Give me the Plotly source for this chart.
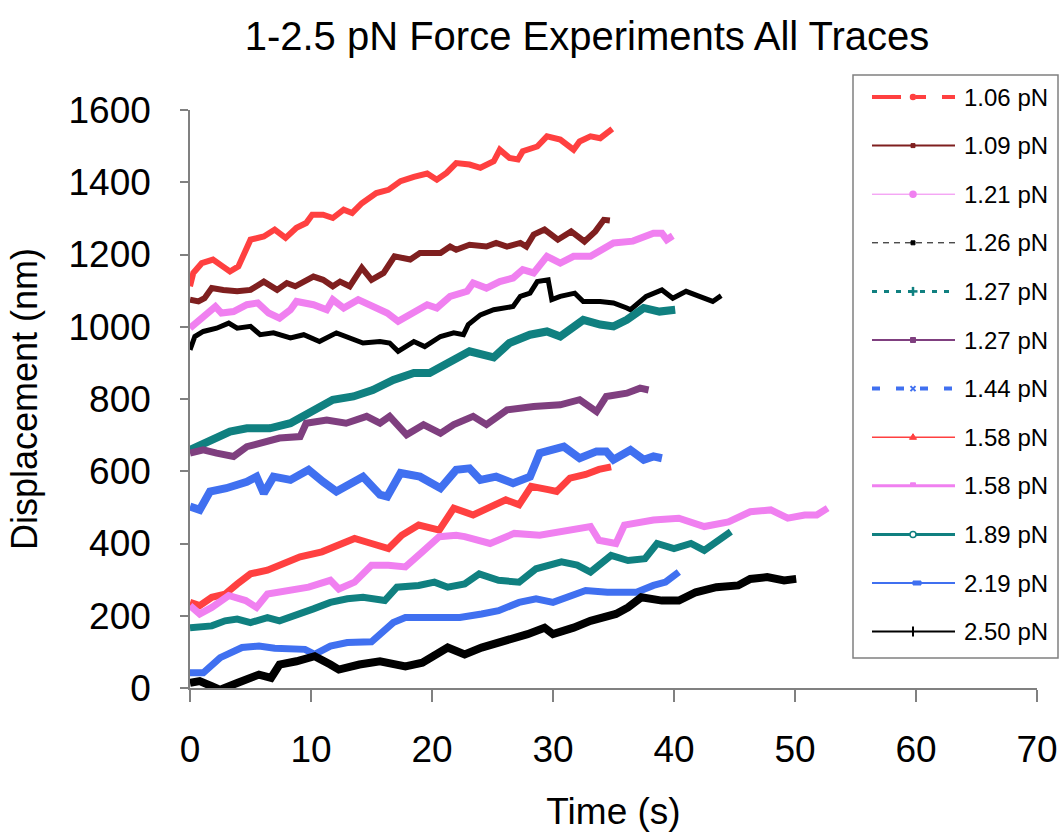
import plotly.graph_objects as go

# ---------------- data ----------------
labels = ["1.06 pN", "1.09 pN", "1.21 pN", "1.26 pN", "1.27 pN", "1.27 pN",
          "1.44 pN", "1.58 pN", "1.58 pN", "1.89 pN", "2.19 pN", "2.50 pN"]

t_106 = [0, 0.27, 0.97, 1.9, 2.7, 3.3, 4.0, 4.7, 5.0, 6.1, 7.0, 7.9, 8.8, 9.6, 10.1, 11.0, 11.8, 12.7, 13.4, 14.2,
         15.4, 16.4, 17.4, 18.5, 19.6, 20.4, 21.2, 22.0, 23.1, 24.0, 25.1, 25.6, 26.4, 27.1, 27.5, 28.7, 29.5,
         30.6, 31.7, 32.2, 33.1, 33.9, 34.9]
d_106 = [1112, 1149, 1176, 1186, 1167, 1153, 1167, 1213, 1241, 1250, 1269, 1246, 1274, 1287, 1310, 1310, 1301, 1324,
         1315, 1342, 1370, 1379, 1403, 1415, 1424, 1407, 1426, 1453, 1449, 1440, 1458, 1490, 1467, 1463, 1486, 1499,
         1527, 1518, 1490, 1513, 1527, 1522, 1548]

t_109 = [0, 0.7, 1.2, 1.8, 2.75, 3.9, 5.0, 6.1, 7.2, 8.0, 8.7, 10.2, 11.0, 11.8, 12.4, 13.2, 14.2, 15.0, 16.0, 16.9,
         18.2, 19.0, 20.7, 21.5, 22.0, 23.1, 24.5, 25.3, 26.2, 27.3, 27.8, 28.4, 29.3, 30.4, 31.5, 32.6, 33.5, 34.2, 34.7]
d_109 = [1075, 1070, 1079, 1107, 1102, 1098, 1102, 1125, 1102, 1121, 1112, 1139, 1130, 1112, 1125, 1112, 1163, 1130,
         1149, 1195, 1186, 1204, 1204, 1222, 1213, 1227, 1222, 1232, 1222, 1232, 1222, 1255, 1269, 1241, 1264, 1236,
         1264, 1296, 1294]

t_121 = [0, 1.1, 2.1, 2.6, 3.6, 4.7, 5.6, 6.5, 7.4, 8.3, 8.8, 10.2, 11.3, 11.8, 12.7, 13.9, 15.2, 16.3, 17.2, 18.5,
         19.6, 20.4, 21.5, 22.9, 23.4, 24.5, 25.6, 26.7, 27.5, 28.4, 29.5, 30.6, 31.7, 33.1, 34.2, 35.0, 36.6, 38.3,
         39.0, 39.4, 39.9]
d_121 = [996, 1029, 1056, 1038, 1042, 1061, 1066, 1038, 1024, 1047, 1070, 1061, 1047, 1075, 1052, 1075, 1056, 1038,
         1015, 1042, 1061, 1052, 1084, 1098, 1121, 1107, 1125, 1135, 1158, 1149, 1195, 1176, 1195, 1195, 1218, 1232,
         1237, 1259, 1259, 1241, 1252]

t_126 = [0, 0.4, 1.1, 2.2, 3.2, 3.9, 5.0, 5.8, 6.9, 8.3, 9.4, 10.7, 12.1, 13.2, 14.3, 15.7, 16.5, 17.2, 18.5, 19.4,
         20.7, 21.8, 22.6, 23.0, 24.0, 25.1, 26.7, 27.3, 28.1, 28.7, 29.6, 29.9, 30.6, 31.8, 32.5, 33.9, 35.0, 36.1,
         36.4, 37.7, 39.0, 39.9, 41.0, 42.1, 43.2, 43.9]
d_126 = [936, 973, 987, 996, 1010, 996, 1001, 978, 983, 969, 978, 959, 983, 969, 955, 959, 955, 932, 959, 945,
         973, 983, 978, 1006, 1033, 1047, 1056, 1084, 1093, 1125, 1130, 1075, 1084, 1093, 1070, 1070, 1066, 1052,
         1047, 1084, 1102, 1079, 1098, 1084, 1070, 1086]

t_127a = [0, 0.55, 1.9, 3.3, 4.7, 6.6, 8.3, 9.9, 11.8, 13.5, 15.1, 16.8, 18.5, 19.8, 21.2, 23.1, 25.1, 26.4, 28.1,
          29.5, 30.6, 32.5, 33.9, 35.0, 36.1, 37.5, 38.8, 40.1]
d_127a = [659, 668, 692, 710, 719, 719, 733, 761, 798, 807, 825, 853, 872, 872, 899, 932, 915, 955, 978,
          987, 973, 1019, 1006, 1001, 1019, 1052, 1042, 1047]

t_127b = [0, 1.1, 2.2, 3.6, 4.7, 6.1, 7.4, 9.1, 9.6, 11.3, 12.9, 14.6, 15.7, 16.5, 17.9, 19.3, 20.7, 21.8, 23.4,
          24.5, 26.2, 28.4, 30.6, 32.2, 33.6, 34.4, 36.1, 37.2, 37.9]
d_127b = [650, 659, 650, 641, 668, 678, 692, 696, 733, 742, 733, 752, 733, 752, 701, 729, 705, 729, 752,
          729, 770, 779, 784, 798, 765, 807, 816, 830, 825]

t_144 = [0, 0.8, 1.65, 3.0, 4.7, 5.5, 6.1, 6.9, 8.3, 9.8, 11.0, 12.1, 14.3, 15.7, 16.3, 17.4, 19.0, 20.7, 22.0,
         23.1, 24.0, 25.3, 26.7, 28.1, 28.9, 30.9, 32.2, 33.6, 34.4, 35.0, 36.4, 37.5, 38.3, 39.0]
d_144 = [502, 493, 544, 553, 571, 585, 539, 585, 576, 604, 571, 544, 585, 535, 530, 595, 585, 553, 604,
         608, 576, 585, 567, 585, 650, 668, 636, 655, 655, 632, 659, 632, 641, 636]

t_158a = [0, 0.8, 1.8, 2.9, 3.9, 5.0, 6.4, 7.7, 9.1, 10.9, 11.9, 13.6, 15.0, 16.4, 17.5, 18.9, 20.6, 21.8, 23.4,
          24.8, 26.1, 27.2, 28.2, 29.6, 30.3, 31.4, 32.7, 33.8, 34.8]
d_158a = [237, 228, 251, 260, 288, 316, 326, 344, 363, 377, 391, 414, 400, 386, 423, 451, 437, 498, 479,
          502, 521, 507, 558, 549, 544, 581, 591, 605, 612]

t_158b = [0, 0.8, 1.8, 3.2, 4.6, 5.5, 6.4, 8.1, 9.8, 11.6, 12.3, 13.6, 15.0, 16.4, 17.8, 19.2, 20.6, 22.0, 22.7,
          24.8, 26.8, 28.9, 31.0, 33.1, 33.8, 35.2, 35.9, 38.3, 40.4, 42.5, 44.5, 46.3, 48.0, 49.4, 50.8, 51.8, 52.7]
d_158b = [228, 205, 223, 256, 242, 223, 260, 270, 279, 298, 274, 293, 340, 340, 335, 377, 419, 423, 419,
          400, 428, 423, 437, 447, 409, 400, 451, 465, 470, 447, 460, 488, 493, 470, 479, 479, 498]

t_189 = [0, 1.8, 2.9, 3.9, 5.0, 6.4, 7.4, 8.8, 10.2, 11.6, 13.0, 14.3, 16.1, 17.1, 18.9, 20.2, 21.3, 22.7, 23.9,
         25.5, 27.2, 28.6, 30.7, 32.0, 33.1, 34.8, 36.2, 37.6, 38.6, 40.0, 41.4, 42.5, 43.5, 44.7]
d_189 = [167, 172, 186, 191, 181, 195, 186, 205, 219, 237, 247, 251, 242, 279, 284, 293, 279, 288, 316,
         298, 293, 330, 349, 340, 321, 367, 353, 358, 400, 386, 400, 381, 405, 433]

t_219 = [0, 1.1, 2.5, 4.3, 5.7, 7.0, 9.5, 10.3, 11.6, 13.0, 15.0, 15.7, 16.8, 17.8, 19.9, 22.3, 24.1, 25.5, 27.2,
         28.6, 30.0, 31.7, 32.7, 34.5, 36.9, 38.3, 39.3, 40.4]
d_219 = [42, 42, 84, 112, 116, 110, 107, 93, 116, 126, 128, 149, 181, 195, 195, 195, 205, 214, 237,
         247, 237, 256, 270, 265, 265, 284, 293, 321]

t_250 = [0, 0.8, 1.8, 2.5, 3.9, 5.7, 6.7, 7.4, 8.8, 10.3, 11.6, 12.3, 14.0, 15.7, 17.8, 19.2, 21.3, 22.7, 24.1,
         26.1, 27.9, 29.3, 30.0, 31.7, 33.1, 35.2, 36.2, 37.3, 39.0, 40.4, 41.8, 43.5, 45.3, 46.3, 47.7, 49.1, 50.1]
d_250 = [14, 19, 5, -5, 14, 37, 28, 65, 74, 88, 65, 51, 65, 74, 60, 70, 112, 93, 112,
         130, 149, 167, 149, 167, 186, 205, 223, 251, 242, 242, 265, 279, 284, 302, 307, 298, 302]

times = [t_106, t_109, t_121, t_126, t_127a, t_127b, t_144, t_158a, t_158b, t_189, t_219, t_250]
disps = [d_106, d_109, d_121, d_126, d_127a, d_127b, d_144, d_158a, d_158b, d_189, d_219, d_250]

x_ticks = [0, 10, 20, 30, 40, 50, 60, 70]
y_ticks = [0, 200, 400, 600, 800, 1000, 1200, 1400, 1600]

# ---------------- styles ----------------
colors = ["#FF4040", "#7F1F1F", "#F080F0", "#000000", "#108080", "#7F3F7F",
          "#4070F0", "#FF4040", "#F080F0", "#108080", "#4070F0", "#000000"]
data_widths = [6, 6, 7, 5, 8, 7, 8, 7, 7, 7, 7, 8]
# legend sample styles
leg_widths = [4, 2, 1, 1, 3, 2, 4, 1.5, 3, 3, 2, 2]
leg_dash = ["29px,15px,10px,16px", "solid", "solid", "6px,5px", "5px,7px", "solid",
            "8px,16px", "solid", "solid", "solid", "solid", "solid"]
leg_marker = ["circle", "square", "circle", "square", "cross", "square",
              "x", "triangle", "hbar", "circle-open", "wrect", "vtick"]
leg_msize = [5, 4, 6, 4, 9, 5, 5, 7, 5, 6, 8, 10]

FONT = "Liberation Sans, Arial, sans-serif"

# plot-area geometry in pixels (layout constants)
W, H = 1063, 832
L, R, T, B = 190, 26, 110, 144
PW, PH = W - L - R, H - T - B


def px_x(p):
    return (p - L) / PW


def px_y(p):
    return (H - B - p) / PH


fig = go.Figure()

for i in range(len(labels)):
    fig.add_trace(go.Scatter(
        x=times[i], y=disps[i], mode="lines", name=labels[i],
        line=dict(color=colors[i], width=data_widths[i]),
        showlegend=False, hoverinfo="skip"))

# ---------------- custom legend (box, samples, text) ----------------
shapes = []
annotations = []
LEG_X0, LEG_X1, LEG_Y0, LEG_Y1 = 853, 1058, 75, 658
shapes.append(dict(type="rect", xref="paper", yref="paper", layer="below",
                   x0=px_x(LEG_X0), x1=px_x(LEG_X1), y0=px_y(LEG_Y1), y1=px_y(LEG_Y0),
                   line=dict(color="#808080", width=1.5), fillcolor="white"))
ROW0, ROW_STEP = 97, 48.6
S0, S1, SM, TX = 872, 955, 913, 962
for i, lab in enumerate(labels):
    yc = ROW0 + ROW_STEP * i
    c = colors[i]
    shapes.append(dict(type="line", xref="paper", yref="paper",
                       x0=px_x(S0), x1=px_x(S1), y0=px_y(yc), y1=px_y(yc),
                       line=dict(color=c, width=leg_widths[i], dash=leg_dash[i])))
    s = leg_msize[i] / 2.0
    m = leg_marker[i]
    if m in ("circle", "circle-open"):
        shapes.append(dict(type="circle", xref="paper", yref="paper",
                           x0=px_x(SM - s), x1=px_x(SM + s), y0=px_y(yc + s), y1=px_y(yc - s),
                           line=dict(color=c, width=1.5),
                           fillcolor="white" if m == "circle-open" else c))
    elif m == "square":
        shapes.append(dict(type="rect", xref="paper", yref="paper",
                           x0=px_x(SM - s), x1=px_x(SM + s), y0=px_y(yc + s), y1=px_y(yc - s),
                           line=dict(color=c, width=1), fillcolor=c))
    elif m == "wrect":
        shapes.append(dict(type="rect", xref="paper", yref="paper",
                           x0=px_x(SM), x1=px_x(SM + 2 * s), y0=px_y(yc + 2), y1=px_y(yc - 2),
                           line=dict(color=c, width=1), fillcolor=c))
    elif m == "hbar":
        shapes.append(dict(type="rect", xref="paper", yref="paper",
                           x0=px_x(SM - s), x1=px_x(SM + s), y0=px_y(yc), y1=px_y(yc - 3),
                           line=dict(color=c, width=1), fillcolor=c))
    elif m == "vtick":
        shapes.append(dict(type="line", xref="paper", yref="paper",
                           x0=px_x(SM), x1=px_x(SM), y0=px_y(yc + s), y1=px_y(yc - s),
                           line=dict(color=c, width=2)))
    elif m == "cross":
        shapes.append(dict(type="line", xref="paper", yref="paper",
                           x0=px_x(SM - s), x1=px_x(SM + s), y0=px_y(yc), y1=px_y(yc),
                           line=dict(color=c, width=2.5)))
        shapes.append(dict(type="line", xref="paper", yref="paper",
                           x0=px_x(SM), x1=px_x(SM), y0=px_y(yc + s), y1=px_y(yc - s),
                           line=dict(color=c, width=2.5)))
    elif m == "x":
        shapes.append(dict(type="path", xref="paper", yref="paper",
                           path="M{},{} L{},{} M{},{} L{},{}".format(
                               px_x(SM - s), px_y(yc - s), px_x(SM + s), px_y(yc + s),
                               px_x(SM - s), px_y(yc + s), px_x(SM + s), px_y(yc - s)),
                           line=dict(color=c, width=2)))
    elif m == "triangle":
        shapes.append(dict(type="path", xref="paper", yref="paper",
                           path="M{},{} L{},{} L{},{} Z".format(
                               px_x(SM - s), px_y(yc + s * 0.6), px_x(SM + s), px_y(yc + s * 0.6),
                               px_x(SM), px_y(yc - s)),
                           line=dict(color=c, width=1), fillcolor=c))
    annotations.append(dict(xref="paper", yref="paper", x=px_x(TX), y=px_y(yc),
                            xanchor="left", yanchor="middle", showarrow=False, text=lab,
                            font=dict(size=24, family=FONT, color="black")))

fig.update_layout(
    width=W, height=H,
    margin=dict(l=L, r=R, t=T, b=B, autoexpand=False),
    paper_bgcolor="white", plot_bgcolor="white",
    showlegend=False,
    font=dict(family=FONT, color="black"),
    title=dict(text="1-2.5 pN Force Experiments All Traces",
               font=dict(size=40, family=FONT, color="black"),
               x=587 / W, xanchor="center", xref="container",
               y=1 - 36 / H, yanchor="middle", yref="container"),
    xaxis=dict(range=[0, 70], tickvals=x_ticks, ticktext=[str(v) for v in x_ticks],
               automargin=False,
               showgrid=False, zeroline=False, showline=True, linecolor="#808080", linewidth=1.5,
               ticks="outside", ticklen=12, tickcolor="#808080", tickwidth=1.5,
               tickfont=dict(size=37, family=FONT, color="black"), ticklabelstandoff=16,
               title=dict(text="Time (s)", font=dict(size=37, family=FONT, color="black"), standoff=32)),
    yaxis=dict(range=[0, 1600], tickvals=y_ticks, ticktext=[str(v) for v in y_ticks],
               automargin=False,
               showgrid=False, zeroline=False, showline=True, linecolor="#808080", linewidth=1.5,
               ticks="outside", ticklen=8, tickcolor="#808080", tickwidth=1.5,
               tickfont=dict(size=37, family=FONT, color="black"), ticklabelstandoff=22,
               title=dict(text="Displacement (nm)", font=dict(size=36, family=FONT, color="black"), standoff=20)),
    shapes=shapes,
    annotations=annotations,
)

fig.write_html("out.html")
